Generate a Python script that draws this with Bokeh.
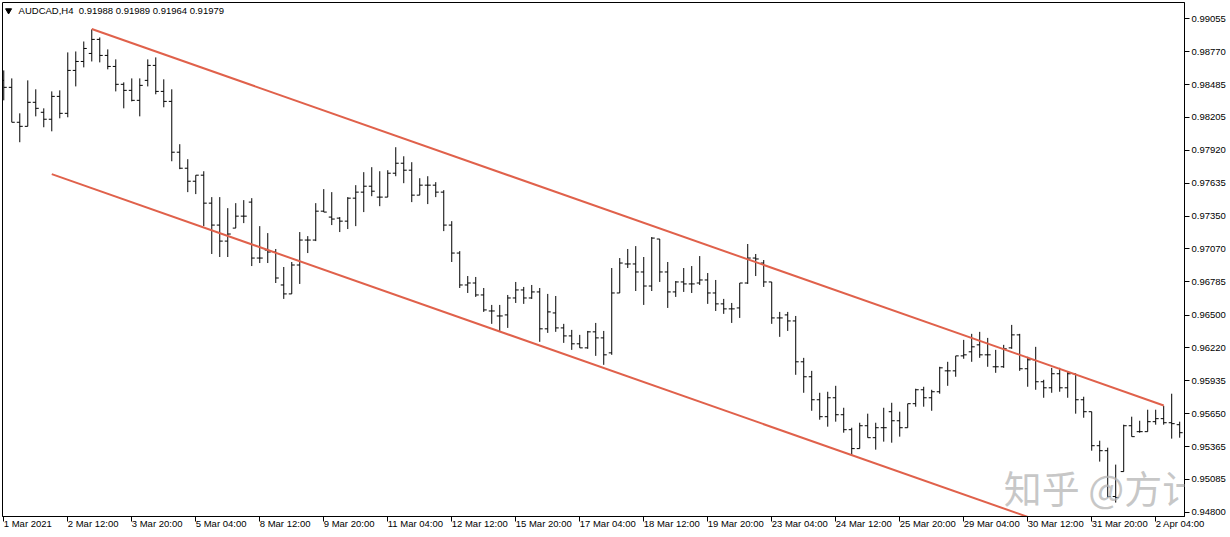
from bokeh.plotting import figure
from bokeh.models import FixedTicker, Range1d, Label
from bokeh.embed import file_html
from bokeh.resources import INLINE

symbol_text = "AUDCAD,H4\u00a0\u00a00.91988 0.91989 0.91964 0.91979"
watermark_text = "知乎 @方计"

opens = [0.98522, 0.98462, 0.98161, 0.98126, 0.98333, 0.98247, 0.98187, 0.98384, 0.98238, 0.98608,
         0.98685, 0.98754, 0.98875, 0.98737, 0.98642, 0.98488, 0.98436, 0.98350, 0.98522, 0.98651,
         0.98427, 0.98341, 0.97903, 0.97765, 0.97653, 0.97705, 0.97464, 0.97275, 0.97137, 0.97249,
         0.97352, 0.97473, 0.96991, 0.97060, 0.97043, 0.96759, 0.96682, 0.96931, 0.97146, 0.97146,
         0.97395, 0.97344, 0.97335, 0.97309, 0.97507, 0.97559, 0.97610, 0.97516, 0.97516, 0.97722,
         0.97808, 0.97748, 0.97533, 0.97619, 0.97619, 0.97559, 0.97275, 0.97034, 0.96759, 0.96776,
         0.96673, 0.96535, 0.96492, 0.96501, 0.96647, 0.96716, 0.96647, 0.96699, 0.96381, 0.96518,
         0.96389, 0.96320, 0.96252, 0.96217, 0.96355, 0.96303, 0.96174, 0.96690, 0.96940, 0.96940,
         0.96871, 0.96750, 0.97155, 0.96871, 0.96699, 0.96785, 0.96768, 0.96776, 0.96802, 0.96690,
         0.96596, 0.96553, 0.96561, 0.96776, 0.96991, 0.96948, 0.96785, 0.96475, 0.96501, 0.96449,
         0.96097, 0.95968, 0.95770, 0.95624, 0.95787, 0.95641, 0.95512, 0.95349, 0.95546, 0.95443,
         0.95529, 0.95667, 0.95589, 0.95529, 0.95736, 0.95856, 0.95787, 0.95839, 0.96019, 0.96019,
         0.96148, 0.96183, 0.96243, 0.96157, 0.96054, 0.96054, 0.96217, 0.96329, 0.96037, 0.96114,
         0.95925, 0.95873, 0.95994, 0.95873, 0.95994, 0.95770, 0.95667, 0.95374, 0.95331, 0.94936,
         0.95151, 0.95546, 0.95495, 0.95495, 0.95581, 0.95607, 0.95572, 0.95555]
highs = [0.98608, 0.98539, 0.98238, 0.98522, 0.98445, 0.98281, 0.98427, 0.98436, 0.98763, 0.98771,
         0.98857, 0.98961, 0.98892, 0.98789, 0.98703, 0.98505, 0.98539, 0.98539, 0.98703, 0.98720,
         0.98531, 0.98445, 0.97972, 0.97843, 0.97705, 0.97739, 0.97516, 0.97516, 0.97421, 0.97464,
         0.97490, 0.97507, 0.97266, 0.97206, 0.97069, 0.96914, 0.96957, 0.97215, 0.97180, 0.97464,
         0.97585, 0.97559, 0.97344, 0.97516, 0.97619, 0.97731, 0.97774, 0.97739, 0.97748, 0.97946,
         0.97868, 0.97817, 0.97679, 0.97696, 0.97645, 0.97576, 0.97309, 0.97051, 0.96836, 0.96828,
         0.96733, 0.96587, 0.96587, 0.96673, 0.96785, 0.96742, 0.96759, 0.96733, 0.96682, 0.96664,
         0.96424, 0.96372, 0.96329, 0.96363, 0.96432, 0.96363, 0.96905, 0.96991, 0.97069, 0.97094,
         0.97000, 0.97172, 0.97155, 0.96957, 0.96793, 0.96905, 0.96922, 0.97008, 0.96862, 0.96802,
         0.96639, 0.96604, 0.96776, 0.97112, 0.97026, 0.96974, 0.96785, 0.96527, 0.96527, 0.96492,
         0.96131, 0.96019, 0.95830, 0.95839, 0.95890, 0.95701, 0.95529, 0.95572, 0.95650, 0.95572,
         0.95701, 0.95744, 0.95667, 0.95736, 0.95865, 0.95882, 0.95856, 0.96054, 0.96097, 0.96148,
         0.96286, 0.96338, 0.96355, 0.96303, 0.96200, 0.96243, 0.96415, 0.96338, 0.96140, 0.96226,
         0.95942, 0.96045, 0.96045, 0.96011, 0.95994, 0.95796, 0.95667, 0.95417, 0.95357, 0.95211,
         0.95555, 0.95624, 0.95589, 0.95684, 0.95684, 0.95718, 0.95822, 0.95581]
lows = [0.98350, 0.98161, 0.97989, 0.98126, 0.98212, 0.98118, 0.98083, 0.98195, 0.98204, 0.98470,
        0.98634, 0.98685, 0.98677, 0.98617, 0.98427, 0.98281, 0.98341, 0.98212, 0.98470, 0.98402,
        0.98290, 0.97825, 0.97757, 0.97559, 0.97542, 0.97266, 0.97026, 0.97000, 0.97000, 0.97249,
        0.97292, 0.96922, 0.96948, 0.96948, 0.96776, 0.96639, 0.96682, 0.96768, 0.97034, 0.97137,
        0.97387, 0.97275, 0.97215, 0.97241, 0.97266, 0.97387, 0.97524, 0.97438, 0.97516, 0.97696,
        0.97636, 0.97473, 0.97533, 0.97456, 0.97516, 0.97223, 0.96957, 0.96733, 0.96690, 0.96656,
        0.96527, 0.96424, 0.96363, 0.96389, 0.96604, 0.96596, 0.96639, 0.96269, 0.96346, 0.96355,
        0.96260, 0.96200, 0.96217, 0.96209, 0.96148, 0.96071, 0.96157, 0.96690, 0.96905, 0.96707,
        0.96587, 0.96707, 0.96785, 0.96561, 0.96656, 0.96699, 0.96690, 0.96759, 0.96596, 0.96535,
        0.96510, 0.96432, 0.96475, 0.96768, 0.96836, 0.96742, 0.96424, 0.96312, 0.96363, 0.95985,
        0.95830, 0.95675, 0.95598, 0.95538, 0.95581, 0.95486, 0.95288, 0.95349, 0.95443, 0.95340,
        0.95409, 0.95400, 0.95452, 0.95529, 0.95710, 0.95710, 0.95675, 0.95822, 0.95890, 0.95968,
        0.96123, 0.96097, 0.96131, 0.96054, 0.96002, 0.96045, 0.96209, 0.96019, 0.95882, 0.95856,
        0.95787, 0.95830, 0.95839, 0.95787, 0.95650, 0.95615, 0.95331, 0.95237, 0.94927, 0.94884,
        0.95151, 0.95452, 0.95486, 0.95495, 0.95555, 0.95555, 0.95435, 0.95443]
closes = [0.98462, 0.98161, 0.98126, 0.98333, 0.98281, 0.98187, 0.98384, 0.98238, 0.98608, 0.98685,
          0.98797, 0.98875, 0.98737, 0.98642, 0.98488, 0.98436, 0.98350, 0.98479, 0.98651, 0.98427,
          0.98341, 0.97903, 0.97765, 0.97653, 0.97705, 0.97464, 0.97275, 0.97137, 0.97198, 0.97352,
          0.97352, 0.96991, 0.96991, 0.97043, 0.96819, 0.96682, 0.96931, 0.97146, 0.97146, 0.97395,
          0.97387, 0.97327, 0.97309, 0.97507, 0.97559, 0.97610, 0.97567, 0.97516, 0.97722, 0.97808,
          0.97748, 0.97533, 0.97619, 0.97619, 0.97559, 0.97275, 0.97034, 0.96759, 0.96776, 0.96673,
          0.96544, 0.96535, 0.96492, 0.96647, 0.96716, 0.96647, 0.96699, 0.96381, 0.96527, 0.96389,
          0.96320, 0.96252, 0.96217, 0.96355, 0.96303, 0.96157, 0.96690, 0.96948, 0.96940, 0.96871,
          0.96750, 0.97163, 0.96871, 0.96699, 0.96785, 0.96768, 0.96768, 0.96802, 0.96690, 0.96596,
          0.96553, 0.96553, 0.96776, 0.96991, 0.96983, 0.96785, 0.96475, 0.96475, 0.96449, 0.96097,
          0.95968, 0.95770, 0.95624, 0.95787, 0.95641, 0.95512, 0.95349, 0.95546, 0.95443, 0.95529,
          0.95529, 0.95589, 0.95529, 0.95736, 0.95856, 0.95787, 0.95839, 0.96045, 0.96019, 0.96148,
          0.96157, 0.96226, 0.96157, 0.96157, 0.96054, 0.96209, 0.96329, 0.96037, 0.96114, 0.95925,
          0.95873, 0.95994, 0.95873, 0.95994, 0.95770, 0.95667, 0.95374, 0.95331, 0.94936, 0.94927,
          0.95546, 0.95452, 0.95495, 0.95581, 0.95607, 0.95572, 0.95564, 0.95486]

x_labels = ["1 Mar 2021", "2 Mar 12:00", "3 Mar 20:00", "5 Mar 04:00", "8 Mar 12:00",
            "9 Mar 20:00", "11 Mar 04:00", "12 Mar 12:00", "15 Mar 20:00", "17 Mar 04:00",
            "18 Mar 12:00", "19 Mar 20:00", "23 Mar 04:00", "24 Mar 12:00", "25 Mar 20:00",
            "29 Mar 04:00", "30 Mar 12:00", "31 Mar 20:00", "2 Apr 04:00"]
bars_per_label = 8

y_ticks = [0.99055, 0.98770, 0.98485, 0.98205, 0.97920, 0.97635, 0.97350, 0.97070,
           0.96785, 0.96500, 0.96220, 0.95935, 0.95650, 0.95365, 0.95085, 0.94800]

upper_x = [11, 145]
upper_y = [0.98965, 0.95721]
lower_x = [6, 140]
lower_y = [0.97714, 0.94470]

FONT = "Liberation Sans"
FS = "9.5px"
TREND = "#E0614B"

n = len(closes)
idx = list(range(n))
half = 0.375

p = figure(width=1230, height=537, output_backend="svg", toolbar_location=None,
           x_range=Range1d(-0.16, 147.6), y_range=Range1d(0.94764, 0.99193),
           y_axis_location="right",
           min_border_left=2, min_border_top=2, min_border_right=46, min_border_bottom=20)
p.background_fill_color = "white"
p.border_fill_color = "white"
p.outline_line_color = "black"
p.outline_line_width = 1
p.xgrid.visible = False
p.ygrid.visible = False

xa = p.xaxis[0]
tick_pos = [i * bars_per_label for i in range(len(x_labels))]
xa.ticker = FixedTicker(ticks=tick_pos)
xa.major_label_overrides = {t: lab for t, lab in zip(tick_pos, x_labels)}
xa.major_label_orientation = -1e-6
xa.major_label_text_align = "left"
xa.major_label_text_font = FONT
xa.major_label_text_font_size = FS
xa.major_label_text_color = "black"
xa.major_tick_out = 5
xa.major_tick_in = 0
xa.minor_tick_out = 0
xa.minor_tick_in = 0
xa.major_label_standoff = 2
xa.axis_line_color = "black"
xa.major_tick_line_color = "black"

ya = p.yaxis[0]
ya.ticker = FixedTicker(ticks=y_ticks)
ya.major_label_overrides = {t: f"{t:.5f}" for t in y_ticks}
ya.major_label_text_font = FONT
ya.major_label_text_font_size = FS
ya.major_label_text_color = "black"
ya.major_tick_out = 5
ya.major_tick_in = 0
ya.minor_tick_out = 0
ya.minor_tick_in = 0
ya.major_label_standoff = 2
ya.axis_line_color = "black"
ya.major_tick_line_color = "black"

# OHLC bars
p.segment(x0=idx, y0=lows, x1=idx, y1=highs, line_color="black", line_width=1)
p.segment(x0=[i - half for i in idx], y0=opens, x1=idx, y1=opens, line_color="black", line_width=1)
p.segment(x0=idx, y0=closes, x1=[i + half for i in idx], y1=closes, line_color="black", line_width=1)

# channel lines
p.line(upper_x, upper_y, line_color=TREND, line_width=2)
p.line(lower_x, lower_y, line_color=TREND, line_width=2)

# header
p.scatter(x=[0.6], y=[0.99124], marker="inverted_triangle", size=6,
          fill_color="black", line_color="black")
p.add_layout(Label(x=1.85, y=0.99124, text=symbol_text, text_font=FONT, text_font_size=FS,
                   text_baseline="middle", text_align="left", text_color="black"))

# watermark
p.add_layout(Label(x=125, y=0.95022, text=watermark_text, text_font="Noto Sans CJK SC",
                   text_font_size="38px", text_baseline="middle", text_align="left",
                   text_color="#b5b5b5", text_alpha=0.75))

open("out.html", "w").write(file_html(p, INLINE))
